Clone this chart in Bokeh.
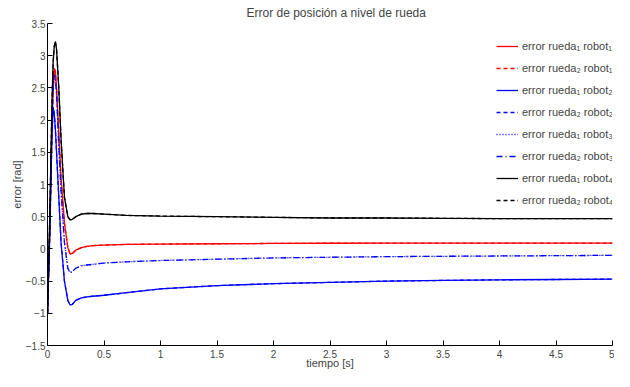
from bokeh.plotting import figure
from bokeh.models import Legend, LegendItem, SingleIntervalTicker
from bokeh.embed import file_html
from bokeh.resources import INLINE

t = [0, 0.02, 0.04, 0.05, 0.06, 0.07, 0.08, 0.1, 0.12, 0.15, 0.18, 0.2, 0.22, 0.25,
     0.3, 0.35, 0.4, 0.5, 0.7, 1.0, 1.5, 2.0, 2.5, 3.0, 3.5, 4.0, 4.5, 5.0]

r1_rob1 = [-1.0, 0.3, 2.0, 2.5, 2.8, 2.75, 2.5, 1.8, 1.1, 0.4, 0.02, -0.08, -0.07, -0.02,
           0.02, 0.04, 0.05, 0.06, 0.07, 0.075, 0.08, 0.085, 0.088, 0.09, 0.09, 0.09, 0.09, 0.09]
r1_rob2 = [-1.0, 0.2, 1.8, 2.2, 2.1, 1.85, 1.5, 0.8, 0.1, -0.5, -0.8, -0.87, -0.86, -0.8,
           -0.76, -0.745, -0.735, -0.72, -0.68, -0.62, -0.57, -0.54, -0.52, -0.5, -0.49, -0.48, -0.475, -0.47]
r2_rob3 = [-1.0, 0.3, 2.0, 2.45, 2.7, 2.65, 2.4, 1.6, 0.9, 0.1, -0.3, -0.37, -0.35, -0.3,
           -0.26, -0.25, -0.24, -0.22, -0.2, -0.18, -0.16, -0.14, -0.13, -0.12, -0.115, -0.11, -0.105, -0.1]
r1_rob4 = [-1.0, 0.5, 2.3, 2.9, 3.15, 3.22, 3.1, 2.5, 1.7, 0.8, 0.5, 0.45, 0.46, 0.5,
           0.54, 0.55, 0.55, 0.54, 0.52, 0.51, 0.5, 0.49, 0.48, 0.48, 0.475, 0.47, 0.47, 0.47]
r2_rob1 = r1_rob1
r2_rob2 = r1_rob2
r1_rob3 = r2_rob3
r2_rob4 = r1_rob4

labels = ["error rueda\u2081 robot\u2081", "error rueda\u2082 robot\u2081",
          "error rueda\u2081 robot\u2082", "error rueda\u2082 robot\u2082",
          "error rueda\u2081 robot\u2083", "error rueda\u2082 robot\u2083",
          "error rueda\u2081 robot\u2084", "error rueda\u2082 robot\u2084"]
series = [r1_rob1, r2_rob1, r1_rob2, r2_rob2, r1_rob3, r2_rob3, r1_rob4, r2_rob4]
colors = ["#ff0000", "#ff0000", "#0000ff", "#0000ff", "#0000ff", "#0000ff", "#000000", "#000000"]
dashes = ["solid", "4 3", "solid", "4 3", "1 2", "6 3 1 3", "solid", "4 3"]

FONT = "Liberation Sans"

p = figure(width=614, height=371, output_backend="svg", toolbar_location=None,
           x_range=(0, 5), y_range=(-1.5, 3.5),
           title="Error de posición a nivel de rueda",
           min_border_left=47, min_border_right=2, min_border_top=0, min_border_bottom=0)
p.outline_line_color = None
p.background_fill_color = "white"
p.border_fill_color = "white"
p.xgrid.visible = False
p.ygrid.visible = False

p.title.align = "left"
p.title.text_font = FONT
p.title.text_font_size = "12px"
p.title.text_font_style = "normal"
p.title.offset = 199
p.title.standoff = 7

for ax in (p.xaxis[0], p.yaxis[0]):
    ax.ticker = SingleIntervalTicker(interval=0.5)
    ax.major_tick_in = 5
    ax.major_tick_out = 0
    ax.minor_tick_in = 0
    ax.minor_tick_out = 0
    ax.axis_line_color = "black"
    ax.major_tick_line_color = "black"
    ax.major_label_text_font = FONT
    ax.major_label_text_font_size = "10px"
    ax.axis_label_text_font = FONT
    ax.axis_label_text_font_size = "11px"
    ax.axis_label_text_font_style = "normal"

p.xaxis.major_label_standoff = 4
p.xaxis.axis_label_standoff = -4
p.xaxis.axis_label = "tiempo [s]"
p.yaxis.major_label_standoff = 2
p.yaxis.axis_label_standoff = 0
p.yaxis.axis_label = "error [rad]"

items = []
for lab, ys, c, d in zip(labels, series, colors, dashes):
    r = p.line(t, ys, line_color=c, line_width=1.3, line_dash=d)
    items.append(LegendItem(label=lab, renderers=[r]))

leg = Legend(items=items, location=(449, 136))
leg.background_fill_alpha = 0
leg.border_line_color = None
leg.label_text_font = FONT
leg.label_text_font_size = "11px"
leg.glyph_width = 22
leg.label_height = 18
leg.glyph_height = 18
leg.label_standoff = 4
leg.spacing = 4
leg.padding = 4
leg.margin = 0
p.add_layout(leg)

open("out.html", "w").write(file_html(p, INLINE))
